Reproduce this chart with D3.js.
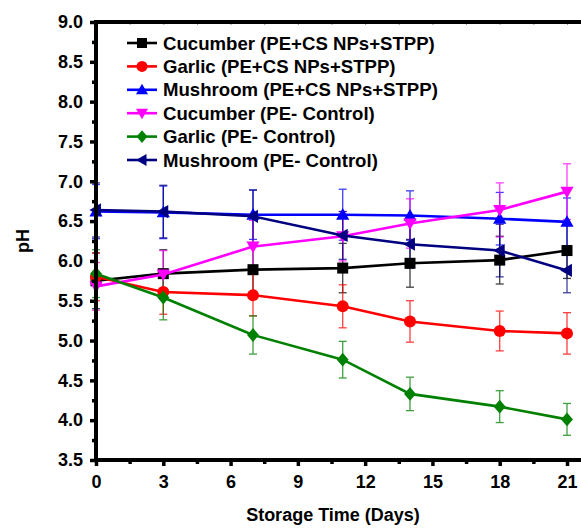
<!DOCTYPE html>
<html><head><meta charset="utf-8">
<script src="https://cdn.jsdelivr.net/npm/d3@7"></script>
<style>html,body{margin:0;padding:0;background:#fff}svg{display:block}</style>
</head><body>
<script>
const days = [0, 3, 7, 11, 14, 18, 21];
const seriesNames = ["Cucumber (PE+CS NPs+STPP)", "Garlic (PE+CS NPs+STPP)", "Mushroom (PE+CS NPs+STPP)", "Cucumber (PE- Control)", "Garlic (PE- Control)", "Mushroom (PE- Control)"];
const cucumberCS = [5.75, 5.84, 5.89, 5.91, 5.97, 6.01, 6.13];
const garlicCS = [5.80, 5.61, 5.57, 5.43, 5.24, 5.12, 5.09];
const mushroomCS = [6.62, 6.61, 6.58, 6.58, 6.57, 6.53, 6.49];
const cucumberCtrl = [5.68, 5.83, 6.18, 6.31, 6.47, 6.64, 6.87];
const garlicCtrl = [5.84, 5.54, 5.07, 4.76, 4.33, 4.17, 4.01];
const mushroomCtrl = [6.64, 6.62, 6.56, 6.32, 6.21, 6.13, 5.88];
const cucumberCSErr = [0.35, 0.30, 0.30, 0.31, 0.30, 0.30, 0.35];
const garlicCSErr = [0.30, 0.28, 0.26, 0.27, 0.26, 0.25, 0.26];
const mushroomCSErr = [0.34, 0.33, 0.31, 0.32, 0.31, 0.33, 0.30];
const cucumberCtrlErr = [0.30, 0.30, 0.33, 0.31, 0.31, 0.34, 0.35];
const garlicCtrlErr = [0.30, 0.28, 0.24, 0.23, 0.21, 0.20, 0.20];
const mushroomCtrlErr = [0.34, 0.33, 0.33, 0.30, 0.30, 0.33, 0.28];
const colors = ["#000000", "#ff0000", "#0000ff", "#ff00ff", "#008000", "#000080"];
const yTicks = [3.5, 4.0, 4.5, 5.0, 5.5, 6.0, 6.5, 7.0, 7.5, 8.0, 8.5, 9.0];
const xTicks = [0, 3, 6, 9, 12, 15, 18, 21];

const values = [cucumberCS, garlicCS, mushroomCS, cucumberCtrl, garlicCtrl, mushroomCtrl];
const errs = [cucumberCSErr, garlicCSErr, mushroomCSErr, cucumberCtrlErr, garlicCtrlErr, mushroomCtrlErr];
const symbols = ["square", "circle", "up", "down", "diamond", "left"];

const W = 581, H = 528;
const svg = d3.select("body").append("svg").attr("width", W).attr("height", H);
const x = d3.scaleLinear().domain([0, 21]).range([96, 567]);
const y = d3.scaleLinear().domain([3.5, 9.0]).range([460, 22]);
const font = "'Liberation Sans', Arial, sans-serif";

function marker(g, type, cx, cy, color, s) {
  let p;
  if (type === "square") p = g.append("rect").attr("x", cx - s/2).attr("y", cy - s/2).attr("width", s).attr("height", s);
  else if (type === "circle") p = g.append("circle").attr("cx", cx).attr("cy", cy).attr("r", s/2 + 0.5);
  else {
    const h = s * 0.6;
    let pts;
    if (type === "up") pts = [[cx, cy - h], [cx - h, cy + h*0.75], [cx + h, cy + h*0.75]];
    else if (type === "down") pts = [[cx, cy + h], [cx - h, cy - h*0.75], [cx + h, cy - h*0.75]];
    else if (type === "left") pts = [[cx - h, cy], [cx + h*0.75, cy - h], [cx + h*0.75, cy + h]];
    else pts = [[cx, cy - h*1.05], [cx + h*0.9, cy], [cx, cy + h*1.05], [cx - h*0.9, cy]];
    p = g.append("polygon").attr("points", pts.map(d => d.join(",")).join(" "));
  }
  p.attr("fill", color);
}

// error bars
const eg = svg.append("g");
values.forEach((vals, i) => {
  vals.forEach((v, j) => {
    const e = errs[i][j], cx = x(days[j]);
    const g = eg.append("g").attr("stroke", colors[i]).attr("stroke-width", 1.3).attr("opacity", 0.75);
    g.append("line").attr("x1", cx).attr("x2", cx).attr("y1", y(v - e)).attr("y2", y(v + e));
    g.append("line").attr("x1", cx - 4).attr("x2", cx + 4).attr("y1", y(v - e)).attr("y2", y(v - e));
    g.append("line").attr("x1", cx - 4).attr("x2", cx + 4).attr("y1", y(v + e)).attr("y2", y(v + e));
  });
});

// lines & markers
const line = d3.line().x((d, j) => x(days[j])).y(d => y(d));
values.forEach((vals, i) => {
  svg.append("path").attr("d", line(vals)).attr("fill", "none").attr("stroke", colors[i]).attr("stroke-width", 2.6);
  const g = svg.append("g");
  vals.forEach((v, j) => marker(g, symbols[i], x(days[j]), y(v), colors[i], 11));
});

// axes
const yAxis = svg.append("g").attr("transform", "translate(96,0)")
  .call(d3.axisLeft(y).tickValues(yTicks).tickFormat(d3.format(".1f")).tickSize(6).tickPadding(7));
const yMinor = svg.append("g").attr("transform", "translate(96,0)")
  .call(d3.axisLeft(y).tickValues(yTicks.slice(0, -1).map(t => t + 0.25)).tickFormat("").tickSize(4));
const xAxis = svg.append("g").attr("transform", "translate(0,460)")
  .call(d3.axisBottom(x).tickValues(xTicks).tickSize(6).tickPadding(9));
const xMinor = svg.append("g").attr("transform", "translate(0,460)")
  .call(d3.axisBottom(x).tickValues(xTicks.map(t => t + 1.5)).tickFormat("").tickSize(4));
[yAxis, yMinor, xAxis, xMinor].forEach(a => {
  a.select(".domain").remove();
  a.selectAll(".tick line").attr("stroke", "#000").attr("stroke-width", 3.5);
  a.selectAll("text").attr("font-family", font).attr("font-weight", "bold").attr("font-size", 18).attr("fill", "#000");
});
// top minor ticks (inward)
const xTop = svg.append("g").attr("transform", "translate(0,22)")
  .call(d3.axisTop(x).tickValues(d3.range(1.5, 22, 1.5)).tickFormat("").tickSize(-3));
xTop.select(".domain").remove();
xTop.selectAll(".tick line").attr("stroke", "#999").attr("stroke-width", 1);

// frame lines
svg.append("line").attr("x1", 96).attr("x2", 96).attr("y1", 20).attr("y2", 462).attr("stroke", "#000").attr("stroke-width", 4);
svg.append("line").attr("x1", 94).attr("x2", W).attr("y1", 460).attr("y2", 460).attr("stroke", "#000").attr("stroke-width", 4);
svg.append("line").attr("x1", 94).attr("x2", W).attr("y1", 22).attr("y2", 22).attr("stroke", "#000").attr("stroke-width", 4);

// axis titles
svg.append("text").attr("x", 333).attr("y", 521).attr("text-anchor", "middle")
  .attr("font-family", font).attr("font-weight", "bold").attr("font-size", 18).text("Storage Time (Days)");
svg.append("text").attr("transform", "translate(29,241) rotate(-90)").attr("text-anchor", "middle")
  .attr("font-family", font).attr("font-weight", "bold").attr("font-size", 18).text("pH");

// legend
const lg = svg.append("g");
seriesNames.forEach((name, i) => {
  const ly = 43 + i * 23.4;
  lg.append("line").attr("x1", 127).attr("x2", 157).attr("y1", ly).attr("y2", ly).attr("stroke", colors[i]).attr("stroke-width", 2.6);
  marker(lg, symbols[i], 142, ly, colors[i], 10);
  lg.append("text").attr("x", 163).attr("y", ly + 6.5).attr("font-family", font).attr("font-weight", "bold")
    .attr("font-size", 18.6).text(name);
});
</script>
</body></html>
